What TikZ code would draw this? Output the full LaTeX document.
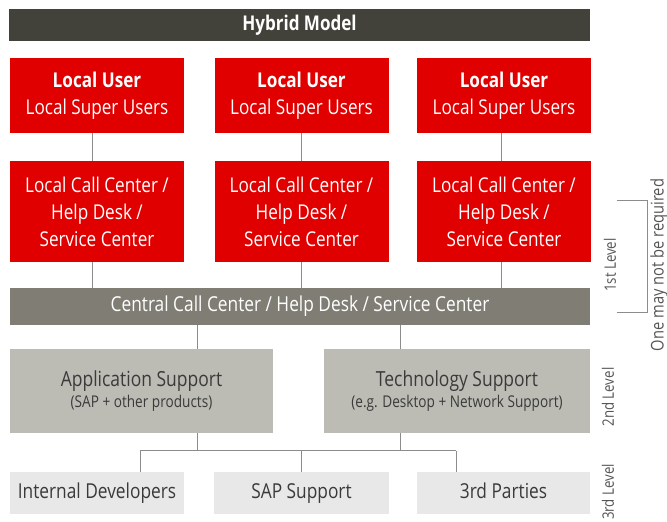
\documentclass[tikz,border=0pt]{standalone}
\usepackage{fontspec}
\setmainfont{Open Sans}[FakeStretch=0.84]
\definecolor{fjred}{HTML}{E00000}
\definecolor{titlegray}{HTML}{43423A}
\definecolor{centralgray}{HTML}{7F7D74}
\definecolor{secondgray}{HTML}{BCBCB5}
\definecolor{thirdgray}{HTML}{E8E8E8}
\definecolor{linegray}{HTML}{8C8C8C}
\definecolor{textdark}{HTML}{3A3A3A}
\definecolor{labelgray}{HTML}{555555}
\begin{document}
\begin{tikzpicture}[x=1pt,y=-1pt,
  box/.style={inner sep=0pt, align=center, anchor=center},
  redbox/.style={box, fill=fjred, text=white, minimum width=174pt, font=\fontsize{20.4}{27}\selectfont},
  secbox/.style={box, fill=secondgray, text=textdark, minimum height=84pt},
  thirdbox/.style={box, fill=thirdgray, text=textdark, minimum height=42pt, text height=15pt, text depth=4.5pt, font=\fontsize{20.6}{24}\selectfont},
  conn/.style={draw=linegray, line width=0.9pt},
  lvl/.style={text=labelgray, rotate=90, font=\fontsize{15.8}{18}\selectfont, inner sep=0pt}]
\useasboundingbox (0,0) rectangle (667,522);

\node[box, fill=titlegray, text=white, minimum width=581pt, minimum height=32pt,
  font=\fontsize{20.3}{22}\selectfont\bfseries] (title) at (299.5,25) {Hybrid Model};

\foreach \n/\x in {1/97, 2/301.5, 3/504}{
  \node[redbox, minimum height=75pt] (u\n) at (\x,95.5) {{\bfseries Local User}\\Local Super Users};
  \node[redbox, minimum height=101pt] (h\n) at (\x,211.5) {Local Call Center /\\Help Desk /\\Service Center};
}

\node[box, fill=centralgray, text=white, minimum width=580pt, minimum height=37pt,
  font=\fontsize{20.6}{22}\selectfont] (cb) at (300,306.5) {Central Call Center / Help Desk / Service Center};

\node[secbox, minimum width=263pt] (app) at (141.5,391)
  {{\fontsize{20.8}{27}\selectfont Application Support}\\[3pt]{\fontsize{16.2}{20}\selectfont (SAP + other products)}};
\node[secbox, minimum width=266pt] (tech) at (457,391)
  {{\fontsize{20.8}{27}\selectfont Technology Support}\\[3pt]{\fontsize{16.2}{20}\selectfont (e.g. Desktop + Network Support)}};

\node[thirdbox, minimum width=174pt] (dev) at (97,493) {Internal Developers};
\node[thirdbox, minimum width=175pt] (sap) at (301.5,493) {SAP Support};
\node[thirdbox, minimum width=173pt] (third) at (503.5,493) {3rd Parties};

% connectors level 1
\foreach \n/\s in {1/-5, 2/0, 3/-3}{
  \draw[conn] ([xshift=\s pt]u\n.south) -- ([xshift=\s pt]h\n.north);
  \draw[conn] ([xshift=\s pt]h\n.south) -- ([xshift=\s pt]h\n.south |- cb.north);
}
\draw[conn] ([xshift=55.5pt]app.north |- cb.south) -- ([xshift=55.5pt]app.north);
\draw[conn] ([xshift=-57pt]tech.north |- cb.south) -- ([xshift=-57pt]tech.north);

\coordinate (jl) at ([yshift=21pt]dev.north);
\draw[conn] ([xshift=55.5pt]app.south) -- ([xshift=55.5pt]app.south |- jl);
\draw[conn] ([xshift=-57pt]tech.south) -- ([xshift=-57pt]tech.south |- jl);
\draw[conn] ([xshift=43pt]dev.north |- jl) -- ([xshift=43pt]dev.north);
\draw[conn] (sap.north |- jl) -- (sap.north);
\draw[conn] ([xshift=-47.5pt]third.north |- jl) -- ([xshift=-47.5pt]third.north);
\draw[conn] ([xshift=43pt]dev.north |- jl) -- ([xshift=-47.5pt]third.north |- jl);

% level labels
\node[lvl] (l1) at (610,265) {1st Level};
\node[lvl] (l2) at (608,397) {2nd Level};
\node[lvl] (l3) at (608,492) {3rd Level};
\coordinate (bt) at (647,200);
\coordinate (bb) at (647,312);
\draw[linegray, line width=0.9pt] ([xshift=-30pt]bt) -- (bt) -- (bb) -- ([xshift=-30pt]bb);
\node[lvl, font=\fontsize{17.5}{20}\selectfont] (opt) at (659,265) {One may not be required};
\end{tikzpicture}
\end{document}
